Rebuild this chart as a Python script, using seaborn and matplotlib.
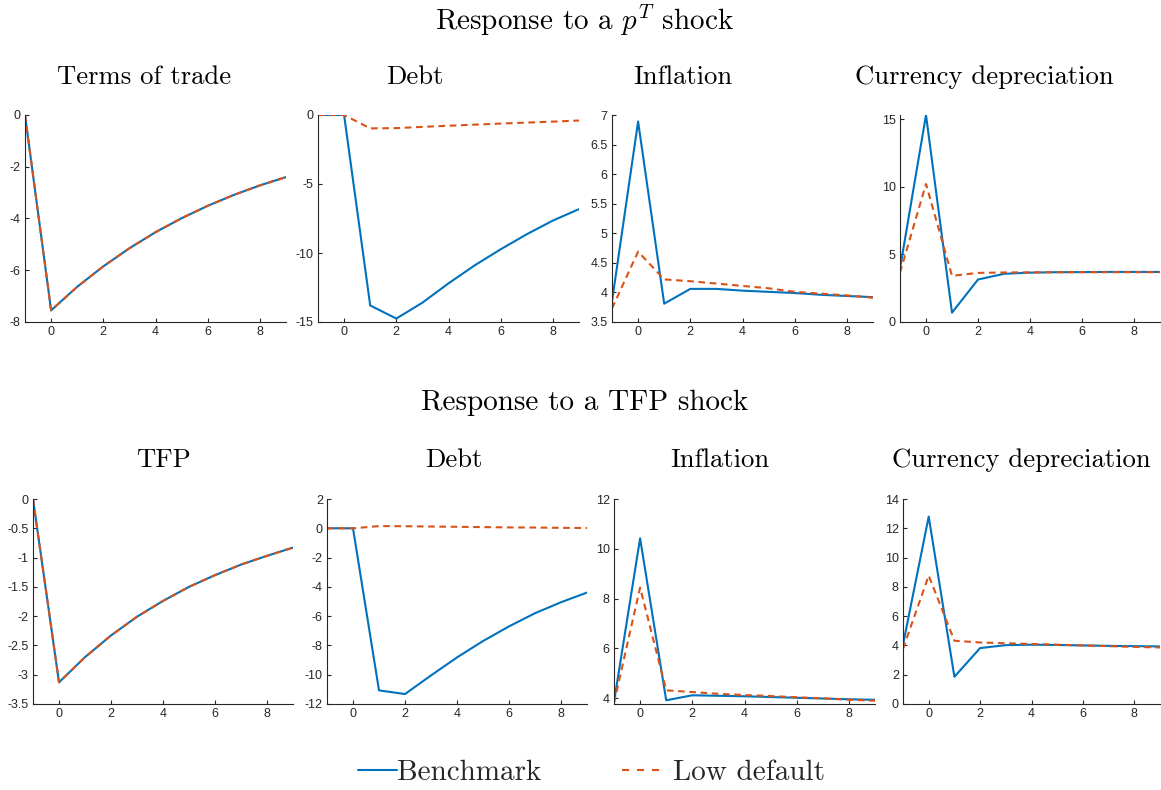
import numpy as np
import pandas as pd
import matplotlib
matplotlib.use("Agg")
import matplotlib.pyplot as plt
from matplotlib.lines import Line2D
import seaborn as sns

# Horizon (quarters after the shock)
horizon = [-1, 0, 1, 2, 3, 4, 5, 6, 7, 8, 9]

# Response to a p^T shock
tot_bench = [0, -7.55, -6.64, -5.85, -5.15, -4.53, -3.99, -3.51, -3.09, -2.72, -2.40]
tot_low = [0, -7.55, -6.64, -5.85, -5.15, -4.53, -3.99, -3.51, -3.09, -2.72, -2.40]
debt1_bench = [0, 0, -13.8, -14.75, -13.6, -12.2, -10.9, -9.73, -8.64, -7.65, -6.82]
debt1_low = [0, 0, -0.97, -0.95, -0.86, -0.78, -0.70, -0.62, -0.55, -0.48, -0.40]
infl1_bench = [3.85, 6.89, 3.81, 4.06, 4.06, 4.03, 4.01, 3.99, 3.96, 3.94, 3.92]
infl1_low = [3.73, 4.69, 4.22, 4.19, 4.15, 4.11, 4.07, 4.01, 3.98, 3.95, 3.91]
dep1_bench = [3.95, 15.3, 0.69, 3.14, 3.56, 3.65, 3.68, 3.69, 3.70, 3.70, 3.70]
dep1_low = [3.65, 10.2, 3.41, 3.63, 3.66, 3.67, 3.68, 3.68, 3.68, 3.68, 3.68]

# Response to a TFP shock
tfp_bench = [0, -3.13, -2.70, -2.33, -2.01, -1.74, -1.50, -1.30, -1.12, -0.97, -0.83]
tfp_low = [0, -3.13, -2.70, -2.33, -2.01, -1.74, -1.50, -1.30, -1.12, -0.97, -0.83]
debt2_bench = [0, 0, -11.07, -11.32, -10.05, -8.82, -7.70, -6.70, -5.80, -5.05, -4.39]
debt2_low = [0, 0, 0.15, 0.14, 0.12, 0.10, 0.08, 0.06, 0.05, 0.03, 0.02]
infl2_bench = [3.84, 10.42, 3.91, 4.11, 4.09, 4.07, 4.04, 4.01, 3.98, 3.95, 3.93]
infl2_low = [3.80, 8.44, 4.31, 4.24, 4.17, 4.12, 4.08, 4.03, 3.99, 3.93, 3.89]
dep2_bench = [4.05, 12.8, 1.86, 3.82, 4.02, 4.05, 4.03, 4.00, 3.97, 3.95, 3.93]
dep2_low = [3.77, 8.77, 4.32, 4.20, 4.15, 4.10, 4.05, 4.00, 3.95, 3.90, 3.86]

series_names = ["Benchmark", "Low default"]
row_titles = [r"Response to a $p^T$ shock", "Response to a TFP shock"]
panel_titles = [["Terms of trade", "Debt", "Inflation", "Currency depreciation"],
                ["TFP", "Debt", "Inflation", "Currency depreciation"]]
panel_data = [[(tot_bench, tot_low), (debt1_bench, debt1_low),
               (infl1_bench, infl1_low), (dep1_bench, dep1_low)],
              [(tfp_bench, tfp_low), (debt2_bench, debt2_low),
               (infl2_bench, infl2_low), (dep2_bench, dep2_low)]]
y_limits = [[(-8, 0), (-15, 0), (3.5, 7), (0, 15.3)],
            [(-3.5, 0), (-12, 2), (3.76, 12), (0, 14)]]
y_ticks = [[np.arange(-8, 0.1, 2), [-15, -10, -5, 0], np.arange(3.5, 7.01, 0.5), [0, 5, 10, 15]],
           [np.arange(-3.5, 0.01, 0.5), np.arange(-12, 2.1, 2), [4, 6, 8, 10, 12], np.arange(0, 14.1, 2)]]

sns.set_theme(style="ticks")
plt.rcParams["mathtext.fontset"] = "cm"
plt.rcParams["font.family"] = ["Liberation Sans", "DejaVu Sans"]

W, H = 1161, 790
fig = plt.figure(figsize=(W / 100, H / 100), dpi=100)

palette = {"Benchmark": "#0072BD", "Low default": "#D95319"}
dash_pattern = (3.2, 2.2)
dashes = {"Benchmark": "", "Low default": dash_pattern}

# Axes boxes in pixels: (left, right) per panel, (top, bottom) per row
lefts_rights = [[(25, 286), (318, 579), (612, 873), (900, 1160)],
                [(33, 293), (327, 587), (614, 875), (903, 1160)]]
tops_bottoms = [(115, 322), (499, 704)]
title_x = [[144.5, 415, 683, 984.5], [163.5, 454, 720, 1021]]
title_y = [77, 460]
row_title_y = [20, 403]

panel_font = dict(family="cmr10", size=19.2, color="black")
row_font = dict(family="cmr10", size=21, color="black")

for r in range(2):
    top, bot = tops_bottoms[r]
    fig.text(585 / W, 1 - row_title_y[r] / H, row_titles[r], ha="center", va="center", **row_font)
    for c in range(4):
        lft, rgt = lefts_rights[r][c]
        ax = fig.add_axes([lft / W, 1 - bot / H, (rgt - lft) / W, (bot - top) / H])
        bench, low = panel_data[r][c]
        df = pd.DataFrame({
            "t": horizon * 2,
            "value": list(bench) + list(low),
            "model": [series_names[0]] * len(horizon) + [series_names[1]] * len(horizon),
        })
        sns.lineplot(data=df, x="t", y="value", hue="model", style="model",
                     palette=palette, dashes=dashes, linewidth=1.5, ax=ax,
                     legend=False, sort=False)
        ax.set_xlim(-1, 9)
        ax.set_ylim(*y_limits[r][c])
        ax.set_xticks([0, 2, 4, 6, 8])
        ax.set_yticks(y_ticks[r][c])
        ax.yaxis.set_major_formatter(matplotlib.ticker.FuncFormatter(
            lambda v, p: "%g" % round(v, 2)))
        ax.set_xlabel("")
        ax.set_ylabel("")
        for s in ["top", "right"]:
            ax.spines[s].set_visible(False)
        for s in ["left", "bottom"]:
            ax.spines[s].set_color("#262626")
            ax.spines[s].set_linewidth(0.8)
        ax.tick_params(direction="in", length=3, width=0.8, colors="#262626",
                       labelsize=9, labelcolor="#262626", pad=3)
        fig.text(title_x[r][c] / W, 1 - title_y[r] / H, panel_titles[r][c],
                 ha="center", va="center", **panel_font)

# Legend: one entry per box so each keeps its own handle-to-text gap
leg_prop = {"family": "cmr10", "size": 21}
h_bench = Line2D([], [], color=palette["Benchmark"], lw=1.5)
h_low = Line2D([], [], color=palette["Low default"], lw=1.5, dashes=(3.4, 3.8))
leg1 = fig.legend([h_bench], [series_names[0]], loc="center left",
                  bbox_to_anchor=(358 / W, 1 - 773 / H), frameon=False,
                  handlelength=1.34, handletextpad=0.0, prop=leg_prop,
                  borderpad=0, borderaxespad=0)
leg2 = fig.legend([h_low], [series_names[1]], loc="center left",
                  bbox_to_anchor=(622 / W, 1 - 773 / H), frameon=False,
                  handlelength=1.34, handletextpad=0.4, prop=leg_prop,
                  borderpad=0, borderaxespad=0)

fig.savefig("out.png", dpi=100)
